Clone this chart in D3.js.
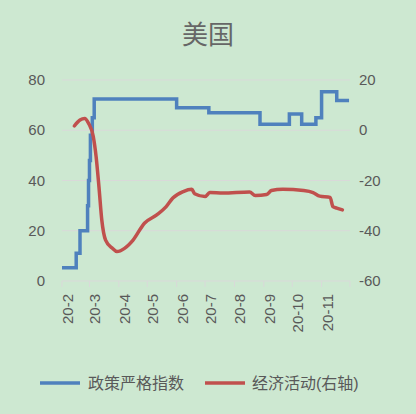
<!DOCTYPE html><html><head><meta charset="utf-8"><script src="https://cdn.jsdelivr.net/npm/d3@7"></script>
<style>body{margin:0;background:#cde8d1}text{font-family:"Liberation Sans","Noto Sans CJK SC",sans-serif}</style></head><body><svg id="c" width="416" height="414"></svg><script>
const title="美国";
const months=["20-2","20-3","20-4","20-5","20-6","20-7","20-8","20-9","20-10","20-11"];
const leftTicks=[0,20,40,60,80];
const rightTicks=[-60,-40,-20,0,20];
const stringencyDates=["2020-02-01","2020-02-16","2020-02-20","2020-02-28","2020-02-29","2020-03-01","2020-03-02","2020-03-04","2020-03-06","2020-06-01","2020-07-05","2020-08-28","2020-09-28","2020-10-11","2020-10-26","2020-11-01","2020-11-17","2020-11-30"];
const stringencyValues=[5.3,11,20,30,40,48,58,65,72.4,69,67,62.4,66.5,62.4,65,75.3,71.8,71.8];
const activityDates=["2020-02-14","2020-02-20","2020-02-25","2020-02-29","2020-03-05","2020-03-08","2020-03-11","2020-03-14","2020-03-18","2020-03-25","2020-03-30","2020-04-07","2020-04-16","2020-04-28","2020-05-11","2020-05-21","2020-05-28","2020-06-08","2020-06-17","2020-06-20","2020-07-01","2020-07-06","2020-07-20","2020-08-17","2020-08-23","2020-09-04","2020-09-09","2020-09-21","2020-10-13","2020-10-23","2020-10-30","2020-11-10","2020-11-13","2020-11-17","2020-11-23"];
const activityValues=[1.7,4.1,4.7,2.8,-2.5,-10.5,-22.5,-35.7,-43.7,-46.9,-48.3,-47,-43.7,-37,-33.7,-30.4,-27,-24.4,-23.5,-25.3,-26.4,-24.8,-25,-24.6,-26,-25.6,-24,-23.5,-24,-24.8,-26.2,-26.7,-30.4,-31,-31.7];
const seriesNames=["政策严格指数","经济活动(右轴)"];
const colors=["#4f81bd","#c0504d"];
const pd=d3.timeParse("%Y-%m-%d");
const svg=d3.select("#c");
const x=d3.scaleTime().domain([pd("2020-02-01"),pd("2020-12-01")]).range([62,350]);
const yL=d3.scaleLinear().domain([0,80]).range([281,80]);
const yR=d3.scaleLinear().domain([-60,20]).range([281,80]);
svg.append("text").attr("x",208).attr("y",44).attr("text-anchor","middle").attr("font-size",26).attr("fill","#666").text(title);
leftTicks.forEach(t=>{if(t>0)svg.append("line").attr("x1",62).attr("x2",350).attr("y1",yL(t)).attr("y2",yL(t)).attr("stroke","#d9d9d9").attr("stroke-width",1);
svg.append("text").attr("x",45).attr("y",yL(t)+5).attr("text-anchor","end").attr("font-size",15).attr("fill","#595959").text(t);});
rightTicks.forEach(t=>svg.append("text").attr("x",359).attr("y",yR(t)+5).attr("font-size",15).attr("fill","#595959").text(t));
svg.append("line").attr("x1",62).attr("x2",350).attr("y1",281).attr("y2",281).attr("stroke","#d9d9d9");
const mstarts=d3.timeMonth.range(pd("2020-02-01"),pd("2020-12-02"));
mstarts.forEach(d=>svg.append("line").attr("x1",x(d)).attr("x2",x(d)).attr("y1",281).attr("y2",287).attr("stroke","#d9d9d9"));
months.forEach((m,i)=>{const cx=x(mstarts[i])+11;
svg.append("text").attr("transform",`translate(${cx},294) rotate(-90)`).attr("text-anchor","end").attr("font-size",15).attr("fill","#595959").text(m);});
const s1=stringencyDates.map((d,i)=>[pd(d),stringencyValues[i]]);
svg.append("path").datum(s1).attr("fill","none").attr("stroke",colors[0]).attr("stroke-width",3.5)
.attr("d",d3.line().x(d=>x(d[0])).y(d=>yL(d[1])).curve(d3.curveStepAfter));
const s2=activityDates.map((d,i)=>[pd(d),activityValues[i]]);
svg.append("path").datum(s2).attr("fill","none").attr("stroke",colors[1]).attr("stroke-width",3.5).attr("stroke-linecap","round")
.attr("d",d3.line().x(d=>x(d[0])).y(d=>yR(d[1])).curve(d3.curveMonotoneX));
[[40,88],[205,252]].forEach((p,i)=>{svg.append("line").attr("x1",p[0]).attr("x2",p[0]+40).attr("y1",383).attr("y2",383).attr("stroke",colors[i]).attr("stroke-width",3.5);
svg.append("text").attr("x",p[1]).attr("y",389).attr("font-size",16).attr("fill","#595959").text(seriesNames[i]);});
</script></body></html>
